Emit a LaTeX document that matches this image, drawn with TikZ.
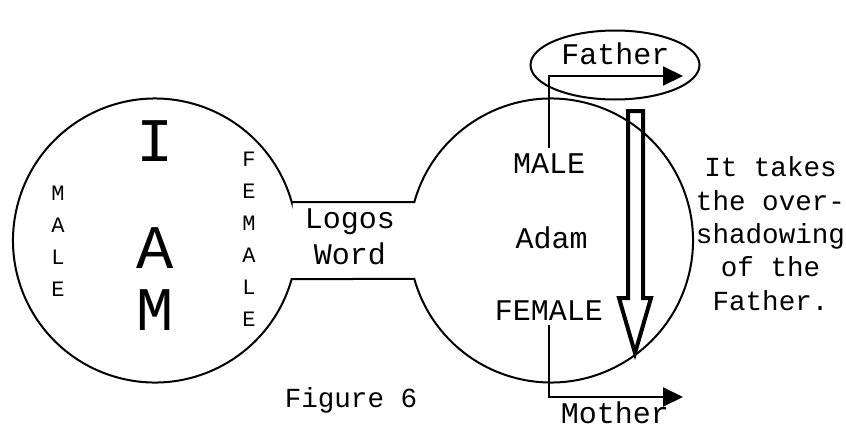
\documentclass[tikz,border=0pt]{standalone}
\usepackage{fontspec}
\setmainfont{Liberation Mono}
\usetikzlibrary{shapes.geometric,arrows.meta,positioning,calc}

\begin{document}
\begin{tikzpicture}[x=1pt, y=-1pt,
    contour/.style={line width=2pt},
    lien/.style={line width=2pt, -{Triangle[length=20pt, width=19pt]}},
    mot/.style={font=\fontsize{30}{34}\selectfont, inner sep=0pt, anchor=base},
    lettre/.style={font=\fontsize{22}{22}\selectfont, inner sep=0pt, anchor=base},
    grande/.style={font=\fontsize{62}{62}\selectfont, inner sep=0pt, anchor=base},
    note/.style={font=\fontsize{27.6}{33.3}\selectfont, inner sep=0pt, anchor=base, align=center}]
    \useasboundingbox (0,0) rectangle (846,431);

    % Cercles et col
    \pgfmathsetmacro{\ang}{asin(38.5/142)}
    \pgfmathsetmacro{\dx}{142*cos(\ang)}
    \draw[contour] (155+\dx,202) -- (551-\dx,202)
        arc[start angle=180+\ang, end angle=540-\ang, radius=142]
        -- (155+\dx,279)
        arc[start angle=\ang, end angle=360-\ang, radius=142] -- cycle;

    % Ovale du Père
    \node[ellipse, draw, contour, minimum width=169pt, minimum height=69pt] (ovale) at (615,65) {};

    % Cercle gauche
    \node[grande] (lettreI) at (155,161) {I};
    \node[grande] (lettreA) at (155,268) {A};
    \node[grande] (lettreM) at (155,330) {M};
    \foreach \c [count=\i] in {M,A,L,E}
        \node[lettre] (male\i) at (58,168+32*\i) {\c};
    \foreach \c [count=\i] in {F,E,M,A,L,E}
        \node[lettre] (female\i) at (249,134.7+32*\i) {\c};

    % Col
    \node[mot] (logos) at (350,228) {Logos};
    \node[mot] (word) at (350,264) {Word};

    % Cercle droit
    \node[mot] (pere) at (615.5,64) {Father};
    \node[mot, inner sep=5pt] (masculin) at (549,173) {MALE};
    \node[mot] (adam) at (551.5,248) {Adam};
    \node[mot, inner sep=5pt] (feminin) at (549,320) {FEMALE};
    \node[mot] (mere) at (615,423) {Mother};

    % Flèches
    \coordinate (finPere) at (683,76);
    \coordinate (finMere) at (683,397);
    \draw[lien] (masculin.north) |- (finPere);
    \draw[lien] (feminin.south) |- (finMere);

    % Grande flèche creuse
    \draw[line width=4pt] (628,111) -- (643,111) -- (643,298) -- (651,298)
        -- (635,353) -- (619,298) -- (628,298) -- cycle;

    % Notes
    \node[note] (note) at (770.5,310) {It takes\\the over-\\shadowing\\of the\\Father.};
    \node[note] (figure) at (351,407) {Figure 6};
\end{tikzpicture}
\end{document}
